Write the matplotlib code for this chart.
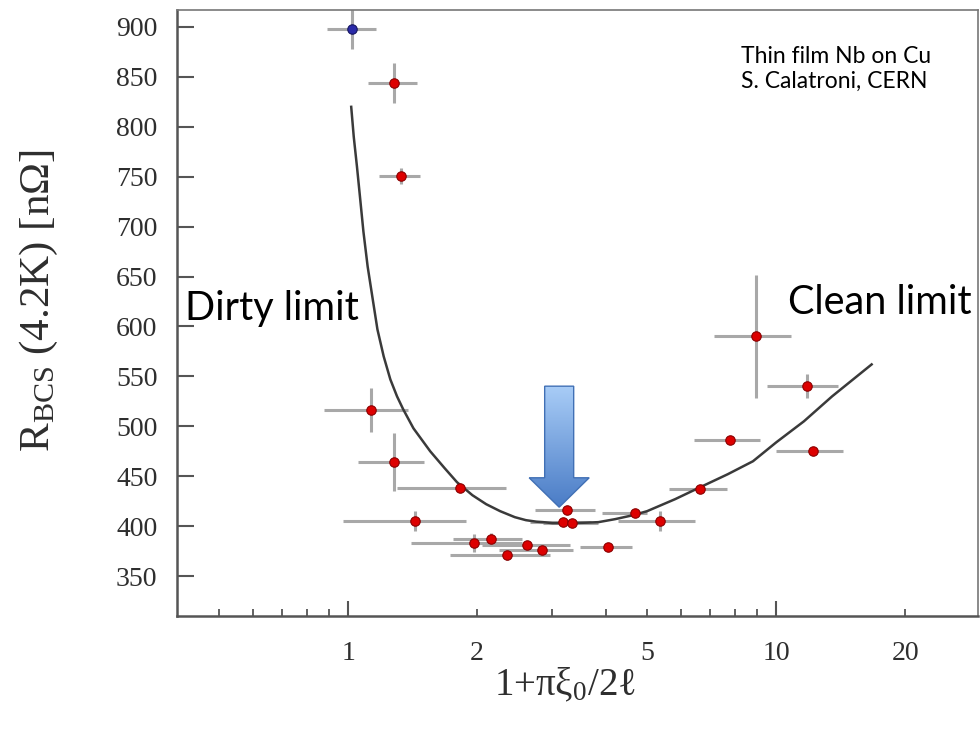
import numpy as np
import matplotlib
matplotlib.use("Agg")
import matplotlib.pyplot as plt
import matplotlib.transforms as mtransforms
from matplotlib.patches import Polygon
from matplotlib.colors import LinearSegmentedColormap
from matplotlib.ticker import FixedLocator, FuncFormatter

plt.rcParams['mathtext.fontset'] = 'custom'
plt.rcParams['mathtext.rm'] = 'Liberation Serif'
plt.rcParams['mathtext.it'] = 'Liberation Serif:italic'

# Daten: Punkt bei x~1 (blau)
x_blue = [1.02]
y_blue = [898]
xlo_blue = [0.89]
xhi_blue = [1.16]
yerr_blue = [20]

# Messpunkte (rot)
x_red = [1.276, 1.33, 1.13, 1.28, 1.82, 1.43, 1.97, 2.15, 2.35, 2.62, 2.83,
         3.25, 3.18, 3.33, 4.05, 4.68, 5.36, 6.64, 7.78, 8.98, 11.8, 12.16]
y_red = [844, 751, 516, 464, 438, 405, 383, 387, 371, 381, 376,
         416, 404, 403, 379, 413, 405, 437, 486, 590, 540, 475]
xlo_red = [1.11, 1.18, 0.88, 1.055, 1.30, 0.97, 1.40, 1.76, 1.73, 2.05, 2.25,
           2.73, 2.66, 2.85, 3.48, 3.91, 4.27, 5.62, 6.43, 7.17, 9.53, 10.0]
xhi_red = [1.45, 1.47, 1.38, 1.50, 2.33, 1.88, 2.55, 2.55, 2.96, 3.30, 3.35,
           3.78, 3.70, 3.84, 4.61, 4.99, 6.47, 7.68, 9.18, 10.8, 13.96, 14.3]
yerr_red = [20, 8, 22, 29, 4, 10, 9, 6, 5, 4, 4,
            4, 4, 4, 4, 4, 10, 3, 3, 62, 12, 3]

# Theoriekurve
curve_x = [1.016, 1.03, 1.048, 1.065, 1.085, 1.11, 1.14, 1.17, 1.21, 1.254,
           1.30, 1.344, 1.42, 1.554, 1.68, 1.795, 1.95, 2.1, 2.264, 2.45,
           2.6, 2.75, 2.855, 3.0, 3.3, 3.6, 3.84, 4.2, 4.63, 4.99,
           5.8, 6.64, 7.7, 8.82, 10.0, 11.6, 13.5, 16.7]
curve_y = [820, 790, 760, 730, 695, 660, 628, 597, 570, 547,
           530, 517, 498, 475, 458, 444, 431, 422, 415, 409,
           406, 404.5, 404, 403, 403, 403.5, 404, 407, 411, 415,
           427, 439, 452, 465, 484, 505, 530, 562]

fig = plt.figure(figsize=(9.8, 7.35), dpi=100)
ax = fig.add_axes([0.1806, 0.1619, 0.8174, 0.8245])

def xerr_of(x, lo, hi):
    x = np.array(x)
    return [x - np.array(lo), np.array(hi) - x]

ax.errorbar(x_red, y_red, xerr=xerr_of(x_red, xlo_red, xhi_red), yerr=yerr_red,
            fmt='none', ecolor='#a8a8a8', elinewidth=2.2, capsize=0, zorder=2)
ax.errorbar(x_blue, y_blue, xerr=xerr_of(x_blue, xlo_blue, xhi_blue), yerr=yerr_blue,
            fmt='none', ecolor='#a8a8a8', elinewidth=2.2, capsize=0, zorder=2)
ax.plot(curve_x, curve_y, color='#3a3a3a', lw=1.8, zorder=3)
ax.plot(x_red, y_red, 'o', ms=6.8, mfc='#dd0000', mec='#8a0000', mew=0.8, zorder=4)
ax.plot(x_blue, y_blue, 'o', ms=6.8, mfc='#2a2aa8', mec='#151560', mew=0.8, zorder=4)

# Pfeil mit Farbverlauf
tip = (3.11, 419)
trans = fig.dpi_scale_trans + mtransforms.ScaledTranslation(tip[0], tip[1], ax.transData)
verts = [(-0.145, 1.21), (0.145, 1.21), (0.145, 0.294), (0.30, 0.294),
         (0, 0), (-0.30, 0.294), (-0.145, 0.294)]
arrow = Polygon(verts, closed=True, transform=trans, facecolor='none',
                edgecolor='#4170b5', lw=1.0, zorder=6)
cmap = LinearSegmentedColormap.from_list('arr', ['#4a7cc6', '#a9cdf7'])
im = ax.imshow(np.linspace(1, 0, 256).reshape(-1, 1), cmap=cmap,
               extent=(-0.31, 0.31, 0, 1.22), transform=trans, aspect='auto',
               interpolation='bicubic', zorder=5)
ax.add_patch(arrow)
im.set_clip_path(arrow)

ax.set_xscale('log')
ax.set_xlim(0.398, 29.6)
ax.set_ylim(310, 917)
ax.set_aspect('auto')

ax.xaxis.set_major_locator(FixedLocator([1, 10]))
ax.xaxis.set_minor_locator(FixedLocator([0.5, 0.6, 0.7, 0.8, 0.9, 2, 3, 4, 5, 6, 7, 8, 9, 20]))
ax.xaxis.set_major_formatter(FuncFormatter(lambda v, p: '%g' % v))
ax.xaxis.set_minor_formatter(FuncFormatter(lambda v, p: '%g' % v if v in (2, 5, 20) else ''))
ax.set_yticks(np.arange(350, 901, 50))

serif = ['Liberation Serif', 'DejaVu Serif']
for lab in ax.get_xticklabels(which='both') + ax.get_yticklabels():
    lab.set_family(serif)
ax.tick_params(axis='both', which='both', direction='in', labelsize=20, color='#555555',
               labelcolor='#2e2e2e')
ax.tick_params(axis='x', which='major', length=11, width=1.5, pad=18)
ax.tick_params(axis='x', which='minor', length=5, width=1.3, pad=18)
ax.tick_params(axis='y', which='major', length=12, width=1.5, pad=14)

for s in ['left', 'bottom']:
    ax.spines[s].set_color('#555555')
    ax.spines[s].set_linewidth(1.8)
for s in ['top', 'right']:
    ax.spines[s].set_color('#777777')
    ax.spines[s].set_linewidth(1.2)

ax.set_ylabel(r'$\mathrm{R_{BCS}}$ (4.2K) [nΩ]', fontsize=31, family=serif, color='#2e2e2e')
ax.yaxis.set_label_coords(-0.146, 0.52)
ax.set_xlabel(r'1+π$\mathrm{\xi}_0$/2ℓ', fontsize=28, family=serif, color='#2e2e2e')
ax.xaxis.set_label_coords(0.484, -0.082)

sans = ['Lato', 'DejaVu Sans']
ax.text(0.01, 0.508, 'Dirty limit', transform=ax.transAxes, fontsize=28.5, family=sans,
        ha='left', va='center', color='black')
ax.text(0.9925, 0.518, 'Clean limit', transform=ax.transAxes, fontsize=28.5, family=sans,
        ha='right', va='center', color='black')
ax.text(0.704, 0.940, 'Thin film Nb on Cu\nS. Calatroni, CERN', transform=ax.transAxes,
        fontsize=16.5, family=sans, ha='left', va='top', linespacing=1.2, color='black')

fig.savefig('out.png', dpi=100)
